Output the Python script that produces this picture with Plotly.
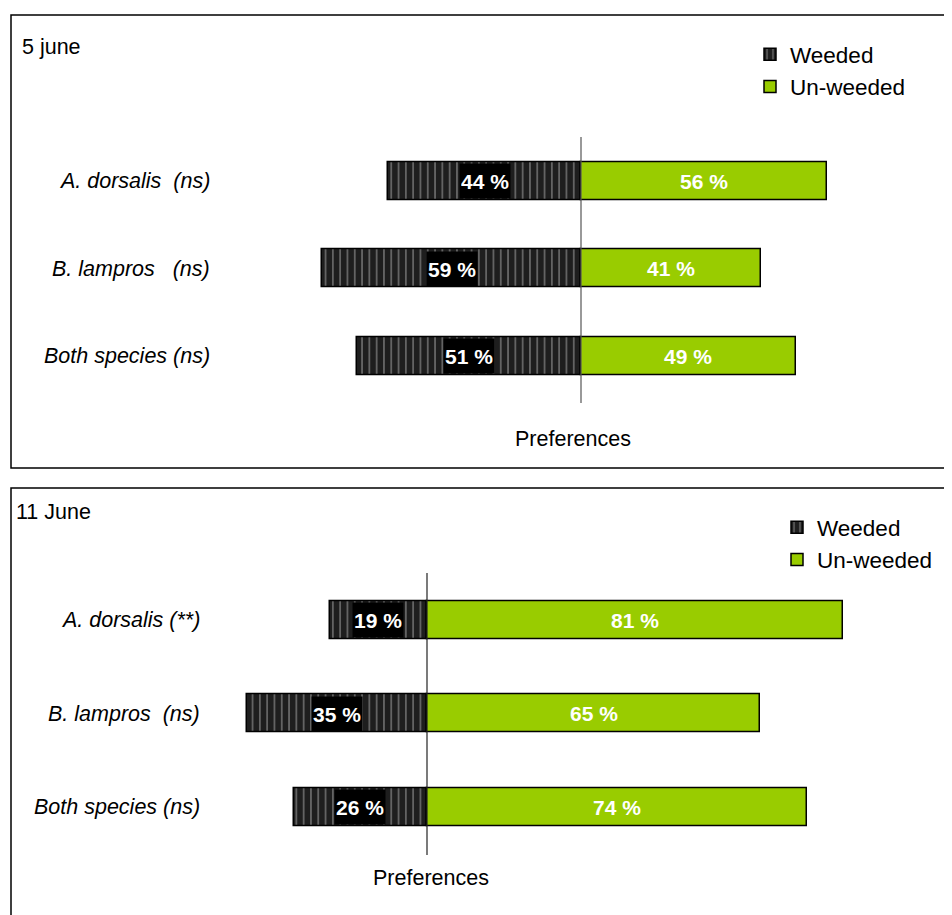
import plotly.graph_objects as go

# page has an 8px body margin: figure is drawn from screen (8, 8)
OFF = 8
W, H = 952 - OFF, 915 - OFF

# ---- data ----
categories_p1 = ["A. dorsalis\u00a0 (ns)", "B. lampros\u00a0\u00a0 (ns)", "Both species (ns)"]
categories_p2 = ["A. dorsalis (**)", "B. lampros\u00a0 (ns)", "Both species (ns)"]
weeded_p1 = [44, 59, 51]
unweeded_p1 = [56, 41, 49]
weeded_p2 = [19, 35, 26]
unweeded_p2 = [81, 65, 74]
panel_titles = ["5 june", "11 June"]
series_names = ["Weeded", "Un-weeded"]
axis_title = "Preferences"

FONT = "Liberation Sans, Arial, sans-serif"
GREEN = "#99CC00"


def xp(px):
    return (px - OFF) / W


def yp(py):
    return 1 - (py - OFF) / H


fig = go.Figure()

panels = [
    dict(cats=categories_p1, wd=weeded_p1, uw=unweeded_p1, xa="x", ya="y",
         zero=581, scale=4.385, top=137.25, bottom=399.75, bw=0.434,
         label_x=212, pref=(573, 439), title=(20, 47), legname="legend",
         legpos=(750, 33), line=(137, 403), frame=(15, 468), linecol="#555555"),
    dict(cats=categories_p2, wd=weeded_p2, uw=unweeded_p2, xa="x2", ya="y2",
         zero=427, scale=5.13, top=573.25, bottom=853.75, bw=0.406,
         label_x=202, pref=(431, 878), title=(14, 512), legname="legend2",
         legpos=(777, 506), line=(573, 855), frame=(488, 940), linecol="#222222"),
]

layout_axes = {}
shapes = []
annotations = []

for i, p in enumerate(panels):
    fig.add_trace(go.Bar(
        y=p["cats"], x=[-v for v in p["wd"]], orientation="h", name=series_names[0],
        xaxis=p["xa"], yaxis=p["ya"], width=p["bw"], legend=p["legname"],
        marker=dict(color="#1e1e1e", line=dict(color="black", width=1.5),
                    pattern=dict(shape="|", fgcolor="#a8a8a8", bgcolor="#1e1e1e",
                                 size=7.3, solidity=0.25, fillmode="overlay")),
        hoverinfo="skip", showlegend=True, legendgroup="w%d" % i,
    ))
    fig.add_trace(go.Bar(
        y=p["cats"], x=p["uw"], orientation="h", name=series_names[1],
        xaxis=p["xa"], yaxis=p["ya"], width=p["bw"], legend=p["legname"],
        marker=dict(color=GREEN, line=dict(color="black", width=1.5)),
        hoverinfo="skip", showlegend=True, legendgroup="u%d" % i,
    ))

    zero_fig = p["zero"] - OFF
    xr = [-zero_fig / p["scale"], (W - zero_fig) / p["scale"]]
    suffix = "" if i == 0 else "2"
    layout_axes["xaxis" + suffix] = dict(domain=[0, 1], range=xr, visible=False,
                                         anchor="y" + suffix, fixedrange=True)
    layout_axes["yaxis" + suffix] = dict(domain=[yp(p["bottom"]), yp(p["top"])],
                                         range=[2.5, -0.5], visible=False,
                                         anchor="x" + suffix, type="category",
                                         categoryarray=p["cats"], categoryorder="array")

    # central vertical line
    shapes.append(dict(type="line", xref=p["xa"], x0=0, x1=0, yref="paper",
                       y0=yp(p["line"][1]), y1=yp(p["line"][0]),
                       line=dict(color=p["linecol"], width=1.2), layer="above"))
    # panel frame
    shapes.append(dict(type="rect", xref="paper", yref="paper",
                       x0=xp(11), x1=xp(980), y0=yp(p["frame"][1]), y1=yp(p["frame"][0]),
                       line=dict(color="black", width=1.5), fillcolor="rgba(0,0,0,0)",
                       layer="below"))

    # category labels
    for c in p["cats"]:
        annotations.append(dict(text=c, xref="paper", x=xp(p["label_x"]), xanchor="right",
                                yref=p["ya"], y=c, yanchor="middle", showarrow=False,
                                font=dict(family=FONT, size=21.5, color="black", style="italic")))
    # value labels
    for c, w, u in zip(p["cats"], p["wd"], p["uw"]):
        annotations.append(dict(text="<b>%d %%</b>" % w, xref=p["xa"], x=-w / 2, xanchor="center",
                                yref=p["ya"], y=c, yanchor="middle", showarrow=False,
                                bgcolor="black", borderpad=1, height=32,
                                font=dict(family=FONT, size=21, color="white")))
        annotations.append(dict(text="<b>%d %%</b>" % u, xref=p["xa"], x=u / 2, xanchor="center",
                                yref=p["ya"], y=c, yanchor="middle", showarrow=False,
                                font=dict(family=FONT, size=21, color="white")))
    # panel title
    annotations.append(dict(text=panel_titles[i], xref="paper", x=xp(p["title"][0]), xanchor="left",
                            yref="paper", y=yp(p["title"][1]), yanchor="middle", showarrow=False,
                            font=dict(family=FONT, size=21.5, color="black")))
    # axis title
    annotations.append(dict(text=axis_title, xref="paper", x=xp(p["pref"][0]), xanchor="center",
                            yref="paper", y=yp(p["pref"][1]), yanchor="middle", showarrow=False,
                            font=dict(family=FONT, size=21.5, color="black")))

leg_common = dict(font=dict(family=FONT, size=22.5, color="black"), bgcolor="rgba(0,0,0,0)",
                  itemwidth=30, tracegroupgap=5, traceorder="normal",
                  xanchor="left", yanchor="top", itemclick=False, itemdoubleclick=False)

fig.update_layout(
    width=W, height=H, margin=dict(l=0, r=0, t=0, b=0),
    paper_bgcolor="white", plot_bgcolor="rgba(0,0,0,0)",
    barmode="relative", bargap=0,
    shapes=shapes, annotations=annotations,
    legend=dict(x=xp(panels[0]["legpos"][0]), y=yp(panels[0]["legpos"][1]), **leg_common),
    legend2=dict(x=xp(panels[1]["legpos"][0]), y=yp(panels[1]["legpos"][1]), **leg_common),
    **layout_axes,
)

fig.write_html("out.html")
